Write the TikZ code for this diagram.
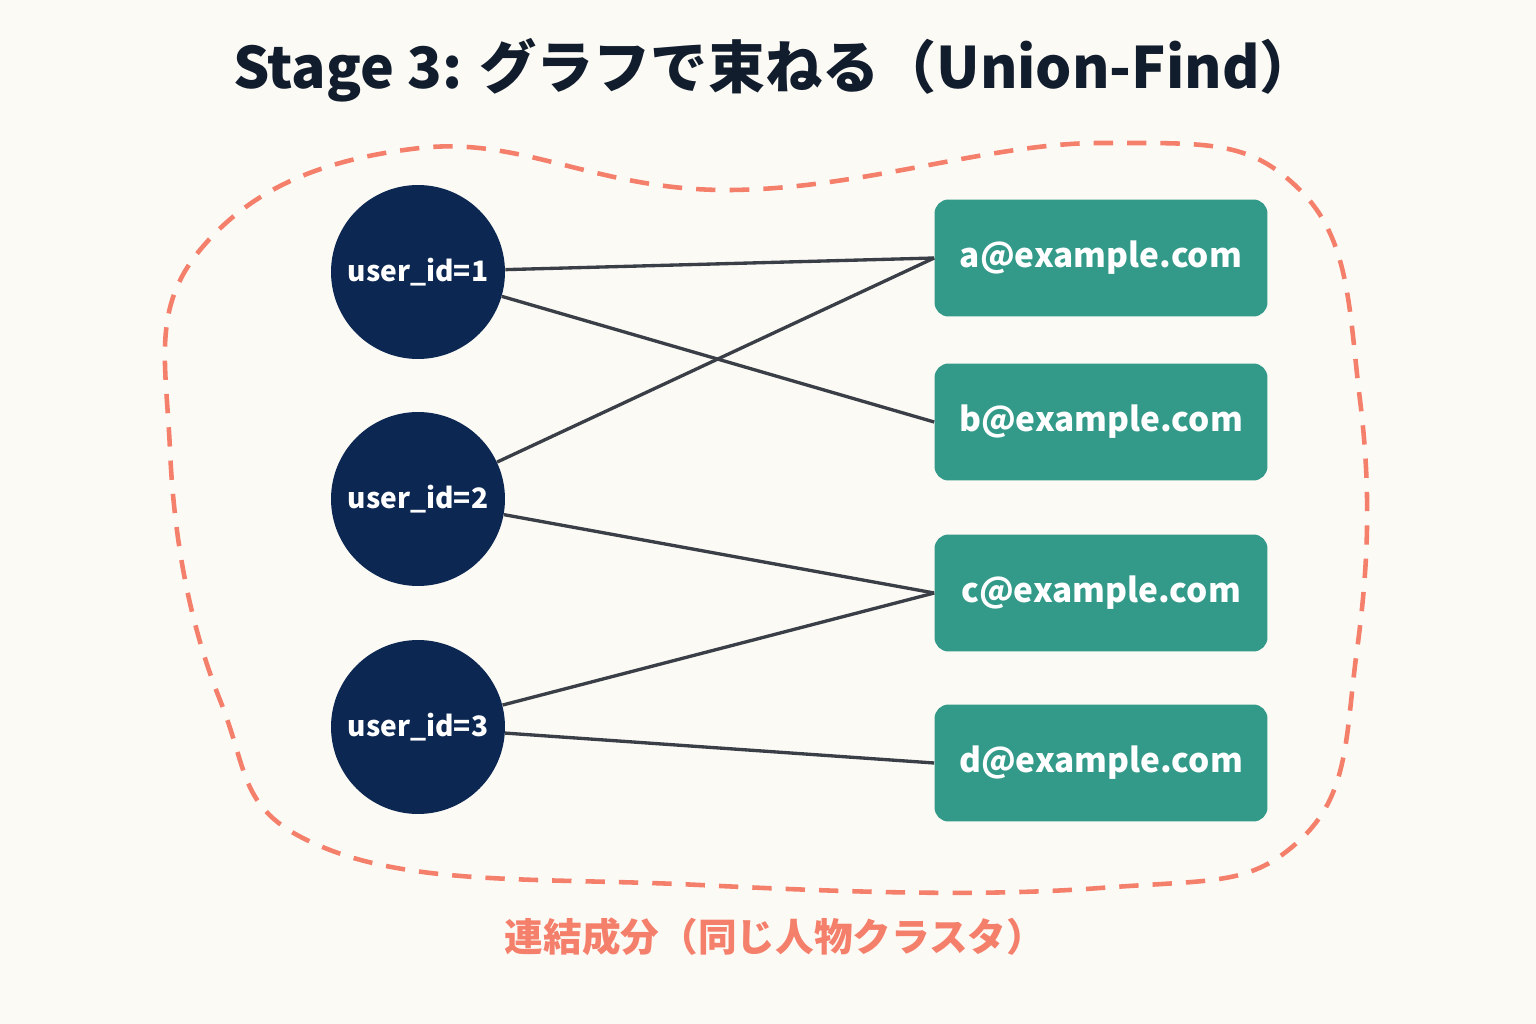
\documentclass[tikz,border=0pt]{standalone}
\usepackage{fontspec}
\setmainfont{Noto Sans CJK JP}
\usetikzlibrary{positioning}
\definecolor{bgcol}{HTML}{FCFAF5}
\definecolor{usercol}{HTML}{0B2752}
\definecolor{mailcol}{HTML}{339A89}
\definecolor{blobcol}{HTML}{F47F6B}
\definecolor{edgecol}{HTML}{3A3F47}
\definecolor{titlecol}{HTML}{111C2C}
\begin{document}
\begin{tikzpicture}[
x=0.02cm, y=-0.02cm,
user/.style={circle,
fill=usercol,
minimum size=3.48cm,
inner sep=0pt,
text=white,
font=\bfseries\fontsize{16}{18}\selectfont},
mail/.style={rectangle,
rounded corners=8pt,
fill=mailcol,
minimum width=6.66cm,
minimum height=2.34cm,
text=white,
font=\bfseries\fontsize{19}{22}\selectfont},
link/.style={draw=edgecol, line width=1.9pt}
]

\fill[bgcol] (0,0) rectangle (1536,1024);

\node[font=\bfseries\fontsize{32.5}{38}\selectfont, text=titlecol] (title) at (775,70) {Stage 3: グラフで束ねる（Union-Find）};

\draw[blobcol, line width=2.6pt, dash pattern=on 11pt off 8pt]
plot[smooth cycle, tension=0.7] coordinates {(420,148) (730,190) (1100,143) (1300,190) (1360,400) (1357,650) (1300,840) (1100,888) (700,885) (330,850) (220,700) (170,450) (200,250)};

\node[user] (u1) at (418,272) {user\_id=1};
\node[user] (u2) at (418,499) {user\_id=2};
\node[user] (u3) at (418,727) {user\_id=3};

\node[mail] (ma) at (1101,258) {a@example.com};
\node[mail] (mb) at (1101,422) {b@example.com};
\node[mail] (mc) at (1101,593) {c@example.com};
\node[mail] (md) at (1101,763) {d@example.com};

\draw[link] (u1) -- (ma.west);
\draw[link] (u1) -- (mb.west);
\draw[link] (u2) -- (ma.west);
\draw[link] (u2) -- (mc.west);
\draw[link] (u3) -- (mc.west);
\draw[link] (u3) -- (md.west);

\node[font=\bfseries\fontsize{22}{26}\selectfont, text=blobcol] (cluster) at (775,937) {連結成分（同じ人物クラスタ）};

\end{tikzpicture}
\end{document}
